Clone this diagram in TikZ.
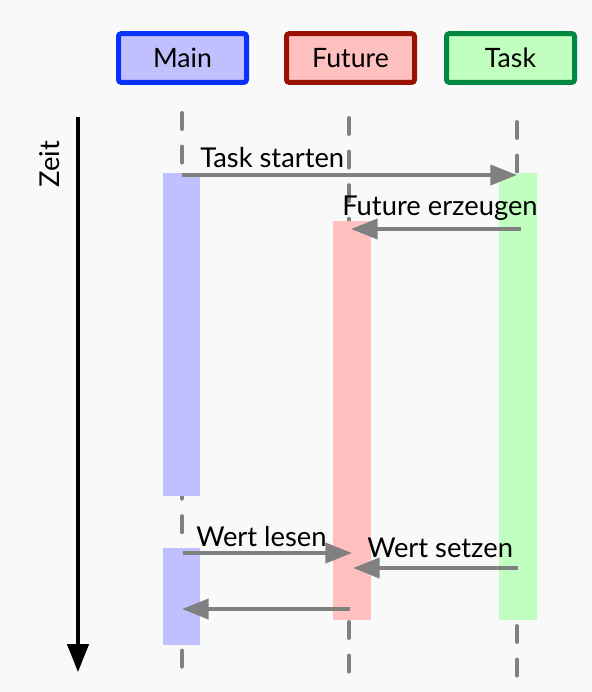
\documentclass[tikz,border=0pt]{standalone}
\usepackage{fontspec}
\setmainfont{Lato}
\usetikzlibrary{arrows.meta}
\definecolor{bg}{HTML}{F9F9F9}
\definecolor{mainfill}{HTML}{C0C0FF}
\definecolor{mainline}{HTML}{0A32FF}
\definecolor{futfill}{HTML}{FFC0C0}
\definecolor{futline}{HTML}{991100}
\definecolor{taskfill}{HTML}{C0FFC0}
\definecolor{taskline}{HTML}{008844}
\definecolor{arrgray}{HTML}{808080}
\tikzset{
  hdrbox/.style={draw, line width=3.75pt, rounded corners=2pt, minimum width=96pt, minimum height=36.5pt, inner sep=0pt, font=\fontsize{20}{24}\selectfont},
  lifeline/.style={draw=arrgray, line width=3pt, line cap=round, dash pattern=on 12pt off 13.2pt},
  msg/.style={draw=arrgray, line width=3pt, -{Triangle[length=20pt,width=15pt]}},
  lbl/.style={inner sep=0pt, anchor=base west, font=\fontsize{20.5}{24}\selectfont},
}
\begin{document}
\begin{tikzpicture}[x=0.75pt,y=-0.75pt]
\fill[bg] (0,0) rectangle (592,692);
\useasboundingbox (0,0) rectangle (592,692);
% header boxes
\node[hdrbox, draw=mainline, fill=mainfill] (main) at (182.5,58) {Main};
\node[hdrbox, draw=futline, fill=futfill] (future) at (350.5,58) {Future};
\node[hdrbox, draw=taskline, fill=taskfill] (task) at (510.5,58) {Task};
% lifelines
\coordinate (mtop) at (182,113); \coordinate (mbot) at (182,672);
\coordinate (ftop) at (349,118); \coordinate (fbot) at (349,675);
\coordinate (ttop) at (517,122); \coordinate (tbot) at (517,679);
\draw[lifeline] (mtop) -- (mbot);
\draw[lifeline] (ftop) -- (fbot);
\draw[lifeline] (ttop) -- (tbot);
% activation bars
\fill[mainfill] (163,173) rectangle (200,496);
\fill[mainfill] (163,548) rectangle (200,645);
\fill[futfill] (333,221) rectangle (371,620);
\fill[taskfill] (499,173) rectangle (537,620);
% time axis
\coordinate (ztop) at (78,117);
\coordinate (zbot) at (78,672);
\draw[line width=2.6pt, -{Triangle[length=21pt,width=16pt]}] (ztop) -- (zbot);
\node[rotate=90, inner sep=0pt, font=\fontsize{20.5}{24}\selectfont] (zeit) at (50,164) {Zeit};
% messages
\coordinate (a1s) at (182,175); \coordinate (a1e) at (517,175);
\coordinate (a2s) at (521,229); \coordinate (a2e) at (351,229);
\coordinate (a3s) at (183,553); \coordinate (a3e) at (352,553);
\coordinate (a4s) at (518,568); \coordinate (a4e) at (353,568);
\coordinate (a5s) at (350,609); \coordinate (a5e) at (182,609);
\draw[msg] (a1s) -- (a1e);
\draw[msg] (a2s) -- (a2e);
\draw[msg] (a3s) -- (a3e);
\draw[msg] (a4s) -- (a4e);
\draw[msg] (a5s) -- (a5e);
% labels
\node[lbl] (l1) at (200,167) {Task starten};
\node[lbl] (l2) at (342,215) {Future erzeugen};
\node[lbl] (l3) at (196,546) {Wert lesen};
\node[lbl] (l4) at (367,557) {Wert setzen};
\end{tikzpicture}
\end{document}
